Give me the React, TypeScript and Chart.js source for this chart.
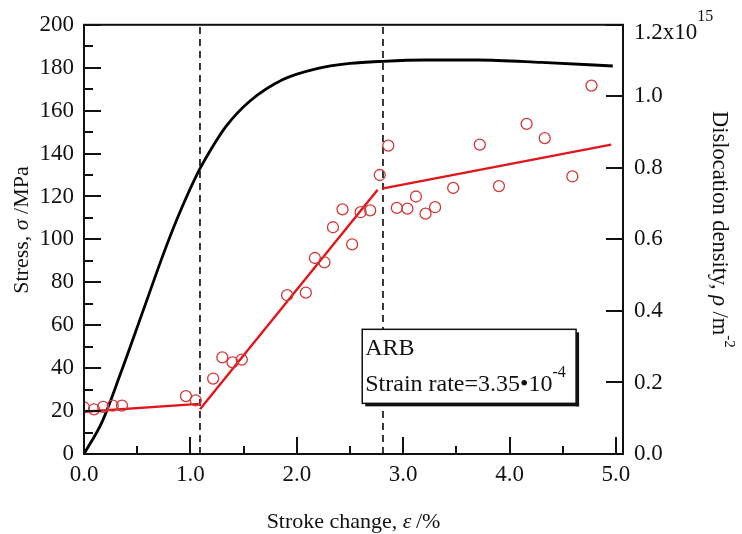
import React, { useEffect, useRef } from "react";
import { Chart, registerables } from "chart.js";

Chart.register(...registerables);

// ---- data ----
const curveStrain = [0, 0.17, 0.34, 0.55, 0.76, 0.9, 1.08, 1.2, 1.34, 1.56, 1.87, 2.18, 2.5, 2.81, 3.2, 3.7, 4.3, 4.97];
const curveStress = [0, 15, 37, 66, 95, 112.5, 132, 142.5, 153, 164.5, 174.5, 179.5, 182, 183, 183.6, 183.6, 182.5, 180.8];

const rhoStrain = [0, 0.094, 0.18, 0.27, 0.357, 0.958, 1.05, 1.214, 1.3, 1.396, 1.483, 1.909, 2.085, 2.17, 2.26, 2.34, 2.43, 2.52, 2.6, 2.69, 2.78, 2.86, 2.94, 3.04, 3.12, 3.21, 3.3, 3.47, 3.72, 3.9, 4.16, 4.33, 4.59, 4.77];
const rhoValue = [0.130, 0.125, 0.132, 0.135, 0.135, 0.162, 0.150, 0.211, 0.270, 0.256, 0.264, 0.444, 0.451, 0.548, 0.536, 0.634, 0.684, 0.586, 0.676, 0.681, 0.780, 0.862, 0.688, 0.686, 0.720, 0.672, 0.690, 0.744, 0.865, 0.749, 0.923, 0.883, 0.776, 1.030];

const fitStartX = [0, 1.09, 2.8];
const fitStartY = [0.118, 0.125, 0.742];
const fitEndX = [1.08, 2.76, 4.955];
const fitEndY = [0.140, 0.739, 0.865];

const dividerStrain = [1.09, 2.81];

const xTicks = [0, 1, 2, 3, 4, 5];
const xMinorTicks = [0.5, 1.5, 2.5, 3.5, 4.5];
const stressTicks = [0, 20, 40, 60, 80, 100, 120, 140, 160, 180, 200];
const stressMinorTicks = [10, 30, 50, 70, 90, 110, 130, 150, 170, 190];
const rhoTicks = [0, 0.2, 0.4, 0.6, 0.8, 1.0, 1.2];
const rhoTickLabels = ["0.0", "0.2", "0.4", "0.6", "0.8", "1.0", ""];

const xTitle = ["Stroke change, ", "ε", "\u2009/%"];
const yTitle = ["Stress, ", "σ", " /MPa"];
const y1Title = ["Dislocation density, ", "ρ", " /m", "-2"];
const rhoTopLabel = ["1.2x10", "15"];
const noteLines = ["ARB", "Strain rate=3.35•10", "-4"];

const FAMILY = '"Liberation Serif", "Times New Roman", serif';
const f = (size: number, italic = false) => `${italic ? "italic " : ""}${size}px ${FAMILY}`;

type Run = { t: string; font: string; dy?: number };
function drawRuns(ctx: CanvasRenderingContext2D, runs: Run[], x: number, y: number, align: "left" | "center") {
  ctx.textAlign = "left";
  ctx.textBaseline = "alphabetic";
  const widths = runs.map((r) => {
    ctx.font = r.font;
    return ctx.measureText(r.t).width;
  });
  const total = widths.reduce((a, b) => a + b, 0);
  let cx = align === "center" ? x - total / 2 : x;
  runs.forEach((r, i) => {
    ctx.font = r.font;
    ctx.fillText(r.t, cx, y + (r.dy || 0));
    cx += widths[i];
  });
}

const framePlugin = {
  id: "frame",
  afterDatasetsDraw(chart: any) {
    const ctx: CanvasRenderingContext2D = chart.ctx;
    const { left, right, top, bottom } = chart.chartArea;
    const xs = chart.scales.x;
    const ys = chart.scales.y;
    const y1 = chart.scales.y1;
    ctx.save();
    ctx.strokeStyle = "#111";
    ctx.fillStyle = "#111";
    ctx.lineWidth = 2;
    // ticks
    ctx.beginPath();
    stressTicks.forEach((v) => {
      const p = Math.round(ys.getPixelForValue(v));
      ctx.moveTo(left, p);
      ctx.lineTo(left + 17, p);
    });
    stressMinorTicks.forEach((v) => {
      const p = Math.round(ys.getPixelForValue(v));
      ctx.moveTo(left, p);
      ctx.lineTo(left + 9, p);
    });
    xTicks.forEach((v) => {
      const p = Math.round(xs.getPixelForValue(v));
      ctx.moveTo(p, bottom);
      ctx.lineTo(p, bottom - 17);
    });
    xMinorTicks.forEach((v) => {
      const p = Math.round(xs.getPixelForValue(v));
      ctx.moveTo(p, bottom);
      ctx.lineTo(p, bottom - 8);
    });
    rhoTicks.forEach((v) => {
      const p = Math.round(y1.getPixelForValue(v));
      ctx.moveTo(right, p);
      ctx.lineTo(right - 17, p);
    });
    ctx.stroke();
    // frame
    ctx.strokeRect(left, top, right - left, bottom - top);

    // annotation box
    const bx0 = xs.getPixelForValue(2.615);
    const bx1 = xs.getPixelForValue(4.625);
    const by0 = ys.getPixelForValue(58.1);
    const by1 = ys.getPixelForValue(23.6);
    ctx.fillStyle = "#fff";
    ctx.fillRect(bx0, by0, bx1 - bx0, by1 - by0);
    ctx.fillStyle = "#111";
    ctx.fillRect(bx0 + 3, by1, bx1 - bx0, 3);
    ctx.fillRect(bx1, by0 + 3, 3, by1 - by0);
    ctx.lineWidth = 1.5;
    ctx.strokeRect(bx0, by0, bx1 - bx0, by1 - by0);
    drawRuns(ctx, [{ t: noteLines[0], font: f(24) }], bx0 + 3, by0 + 26, "left");
    drawRuns(
      ctx,
      [
        { t: noteLines[1], font: f(24) },
        { t: noteLines[2], font: f(16), dy: -14 },
      ],
      bx0 + 3,
      by0 + 62,
      "left"
    );

    // right top tick label
    drawRuns(
      ctx,
      [
        { t: rhoTopLabel[0], font: f(23) },
        { t: rhoTopLabel[1], font: f(16), dy: -18 },
      ],
      right + 11,
      top + 14,
      "left"
    );

    // x title
    drawRuns(
      ctx,
      [
        { t: xTitle[0], font: f(22) },
        { t: xTitle[1], font: f(22, true) },
        { t: xTitle[2], font: f(22) },
      ],
      (left + right) / 2,
      528,
      "center"
    );

    // left title
    ctx.save();
    ctx.translate(28, 230);
    ctx.rotate(-Math.PI / 2);
    drawRuns(
      ctx,
      [
        { t: yTitle[0], font: f(22) },
        { t: yTitle[1], font: f(22, true) },
        { t: yTitle[2], font: f(22) },
      ],
      0,
      0,
      "center"
    );
    ctx.restore();

    // right title
    ctx.save();
    ctx.translate(713, 111);
    ctx.rotate(Math.PI / 2);
    drawRuns(
      ctx,
      [
        { t: y1Title[0], font: f(22.5) },
        { t: y1Title[1], font: f(22.5, true) },
        { t: y1Title[2], font: f(22.5) },
        { t: y1Title[3], font: f(15), dy: -12 },
      ],
      0,
      0,
      "left"
    );
    ctx.restore();
    ctx.restore();
  },
};

export default function App() {
  const ref = useRef<HTMLCanvasElement | null>(null);
  useEffect(() => {
    if (!ref.current) return;
    const tickFont = { family: FAMILY, size: 23 };
    const datasets: any[] = [
      {
        label: "stress",
        data: curveStrain.map((x, i) => ({ x, y: curveStress[i] })),
        yAxisID: "y",
        showLine: true,
        borderColor: "#000",
        borderWidth: 2.8,
        pointRadius: 0,
        cubicInterpolationMode: "monotone",
        order: 3,
      },
      ...dividerStrain.map((x) => ({
        label: "divider",
        data: [
          { x, y: 0 },
          { x, y: 200 },
        ],
        yAxisID: "y",
        showLine: true,
        borderColor: "#222",
        borderWidth: 1.8,
        borderDash: [7, 5],
        pointRadius: 0,
        order: 4,
      })),
      ...fitStartX.map((x, i) => ({
        label: "fit",
        data: [
          { x, y: fitStartY[i] },
          { x: fitEndX[i], y: fitEndY[i] },
        ],
        yAxisID: "y1",
        showLine: true,
        borderColor: "#e0161b",
        borderWidth: 2.4,
        pointRadius: 0,
        order: 2,
      })),
      {
        label: "rho",
        data: rhoStrain.map((x, i) => ({ x, y: rhoValue[i] })),
        yAxisID: "y1",
        showLine: false,
        borderColor: "#d03a3a",
        backgroundColor: "rgba(0,0,0,0)",
        borderWidth: 1.3,
        pointRadius: 5.5,
        order: 1,
      },
    ];
    const chart = new Chart(ref.current, {
      type: "scatter",
      data: { datasets },
      options: {
        responsive: false,
        animation: false,
        devicePixelRatio: 1,
        layout: { padding: { top: 24, left: 0, right: 0, bottom: 0 } },
        plugins: { legend: { display: false }, tooltip: { enabled: false } },
        scales: {
          x: {
            type: "linear",
            position: "bottom",
            min: 0,
            max: 5.066,
            grid: { display: false, drawTicks: false },
            border: { display: false },
            ticks: {
              font: tickFont,
              color: "#111",
              padding: 7,
              maxRotation: 0,
              callback: (v: any) => Number(v).toFixed(1),
            },
            afterBuildTicks: (s: any) => {
              s.ticks = xTicks.map((value) => ({ value }));
            },
            afterFit: (s: any) => {
              s.height = 80;
            },
          },
          y: {
            type: "linear",
            position: "left",
            min: 0,
            max: 200,
            grid: { display: false, drawTicks: false },
            border: { display: false },
            ticks: {
              font: tickFont,
              color: "#111",
              padding: 10,
              callback: (v: any) => String(v),
            },
            afterBuildTicks: (s: any) => {
              s.ticks = stressTicks.map((value) => ({ value }));
            },
            afterFit: (s: any) => {
              s.width = 84;
            },
          },
          y1: {
            type: "linear",
            position: "right",
            min: 0,
            max: 1.2,
            grid: { display: false, drawTicks: false },
            border: { display: false },
            ticks: {
              font: tickFont,
              color: "#111",
              padding: 11,
              callback: (v: any) => {
                const i = rhoTicks.findIndex((t) => Math.abs(t - Number(v)) < 1e-6);
                return i >= 0 ? rhoTickLabels[i] : "";
              },
            },
            afterBuildTicks: (s: any) => {
              s.ticks = rhoTicks.map((value) => ({ value }));
            },
            afterFit: (s: any) => {
              s.width = 119;
            },
          },
        },
      },
      plugins: [framePlugin],
    });
    return () => chart.destroy();
  }, []);
  return (
    <div style={{ position: "fixed", left: 0, top: 0, width: 742, height: 534, background: "#fff" }}>
      <canvas ref={ref} width={742} height={534} style={{ display: "block" }} />
    </div>
  );
}
